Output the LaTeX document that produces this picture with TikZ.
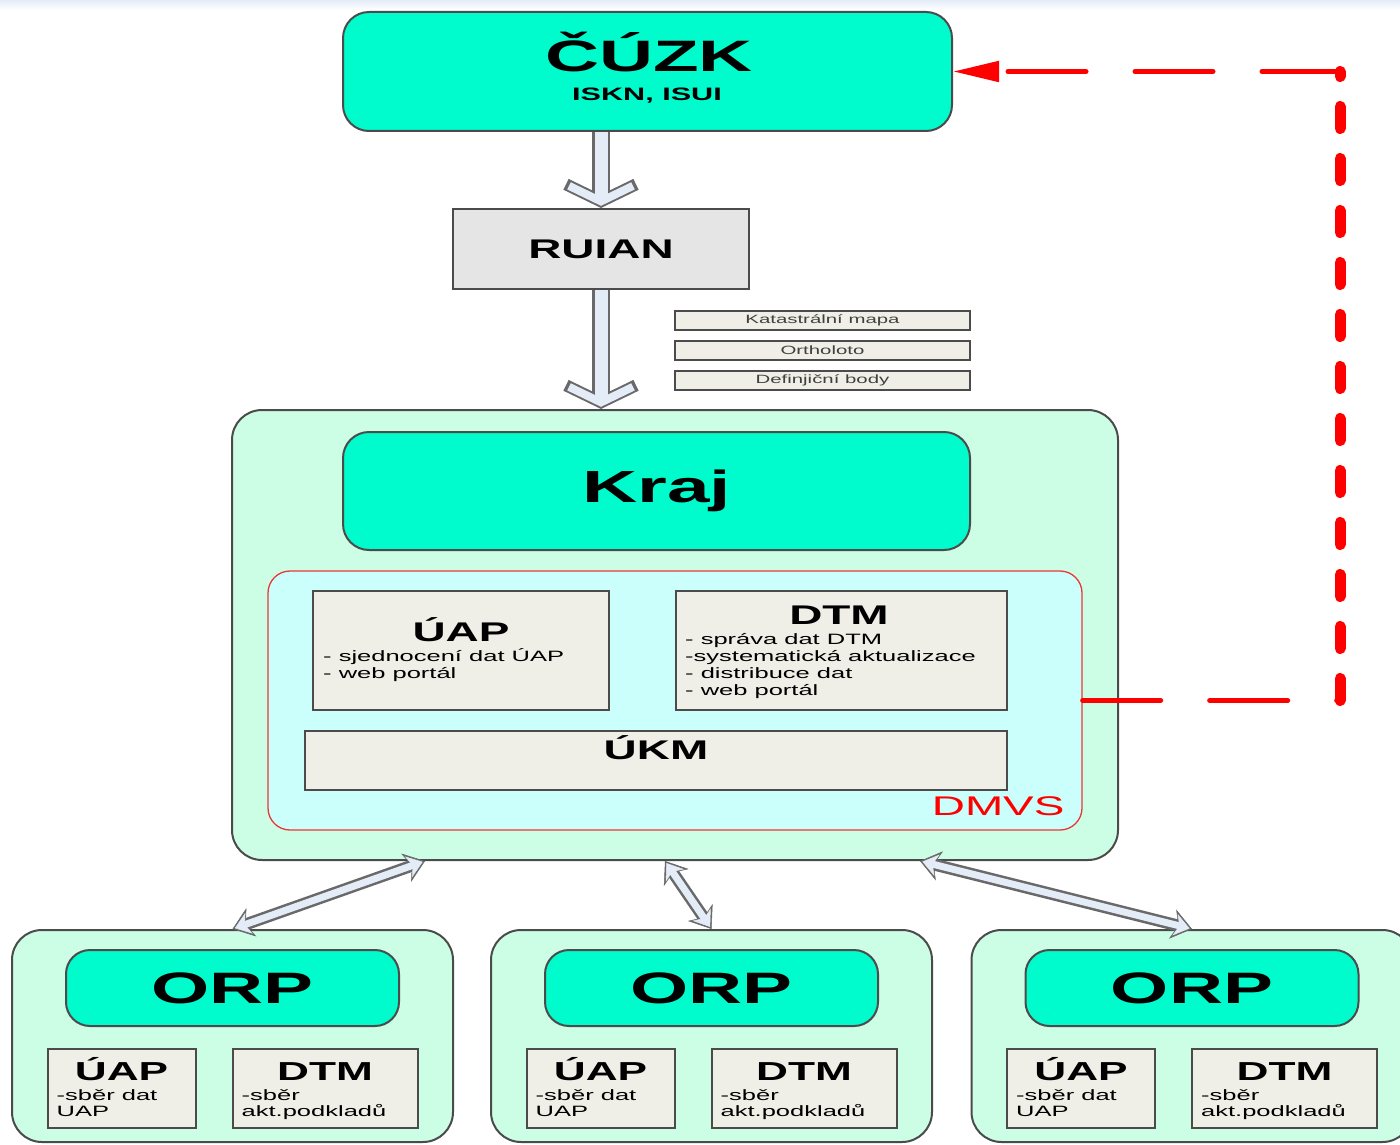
\documentclass[tikz,border=0pt]{standalone}
\usepackage{fontspec}
\setmainfont{Liberation Sans}[FakeStretch=1.7]
\usepackage{tikz}
\usetikzlibrary{arrows,arrows.meta}
\usetikzlibrary{positioning}
\definecolor{orpcyan}{RGB}{0,252,204}
\definecolor{mintgreen}{RGB}{204,254,230}
\definecolor{dmvsfill}{RGB}{202,255,252}
\definecolor{boxgray}{RGB}{239,239,231}
\definecolor{ruiangray}{RGB}{229,229,229}
\definecolor{edgegray}{RGB}{75,75,75}
\definecolor{arrowblue}{RGB}{228,236,248}
\definecolor{arrowgray}{RGB}{105,105,105}
\definecolor{dmvsred}{RGB}{235,55,55}
\tikzset{
	chevo/.tip={Straight Barb[length=17pt 0,width=70pt 0,line width=12pt 0]},
	chevi/.tip={Straight Barb[length=15.5pt 0,width=64pt 0,line width=8pt 0]},
	heado/.tip={Stealth[length=20pt 0,width=30pt 0,inset=6pt 0,line width=0.5pt 0]},
	headi/.tip={Stealth[length=15pt 0,width=22pt 0,inset=4.5pt 0,line width=0.5pt 0]}
}

\begin{document}
\begin{tikzpicture}[x=1pt,y=-1pt,
	box/.style={draw=edgegray,line width=2pt,inner sep=0pt},
	cyanbox/.style={box,fill=orpcyan,rounded corners=26pt},
	mintbox/.style={box,fill=mintgreen,rounded corners=30pt},
	graybox/.style={box,fill=boxgray},
	tagbox/.style={box,line width=1.5pt,fill=boxgray,minimum width=295pt,minimum height=19pt,text=black!75,font=\fontsize{12}{12}\selectfont},
	title/.style={anchor=base,font=\fontsize{27}{27}\selectfont\bfseries},
	list/.style={anchor=base west,align=left,inner sep=0pt,font=\fontsize{15}{17}\selectfont},
	fatout/.style={draw=arrowgray,line width=18pt},
	fatin/.style={draw=arrowblue,line width=13pt,shorten >=2.2pt},
	thinout/.style={draw=arrowgray,line width=12pt},
	thinin/.style={draw=arrowblue,line width=7pt,shorten >=2.5pt,shorten <=2.5pt},
	reddash/.style={draw=red,line cap=round}]
	\clip (0,0) rectangle (1400,1145);
	\shade[top color=arrowblue,bottom color=white] (0,0) rectangle (1400,10);

	\node[cyanbox,minimum width=609pt,minimum height=119pt] (cuzk) at (647.5,71.5) {};
	\node[anchor=base,font=\fontsize{44}{44}\selectfont\bfseries] (cuzktitle) at (649,72) {ČÚZK};
	\node[anchor=base,font=\fontsize{18}{18}\selectfont\bfseries] (cuzksub) at (647,101) {ISKN, ISUI};
	\node[box,fill=ruiangray,minimum width=296pt,minimum height=80pt,font=\fontsize{27}{27}\selectfont\bfseries] (ruian) at (601,249) {RUIAN};

	\node[tagbox] (katastr) at (822.5,320.5) {Katastrální mapa};
	\node[tagbox] (ortho) at (822.5,350.5) {Ortholoto};
	\node[tagbox] (body) at (822.5,380.5) {Definjiční body};

	\node[mintbox,minimum width=886pt,minimum height=450pt] (kraj) at (675,635) {};
	\node[cyanbox,minimum width=627pt,minimum height=118pt,font=\fontsize{45}{45}\selectfont\bfseries] (krajtitle) at (656.5,491) {Kraj};
	\node[draw=dmvsred,line width=1.3pt,fill=dmvsfill,rounded corners=22pt,minimum width=814pt,minimum height=259pt] (dmvs) at (675,700.5) {};
	\node[anchor=base east,text=red,font=\fontsize{27}{27}\selectfont] (dmvslabel) at (1068,815) {DMVS};

	\node[graybox,minimum width=296pt,minimum height=119pt] (uap) at (461,650.5) {};
	\node[title] (uaptitle) at (461,641) {ÚAP};
	\node[list] (uaplist) at (323,678) {- sjednocení dat ÚAP\\- web portál};
	\node[graybox,minimum width=331pt,minimum height=119pt] (dtm) at (841.5,650.5) {};
	\node[title] (dtmtitle) at (839,624) {DTM};
	\node[list] (dtmlist) at (685,695) {- správa dat DTM\\-systematická aktualizace\\- distribuce dat\\- web portál};
	\node[graybox,minimum width=702pt,minimum height=59pt] (ukm) at (656,760.5) {};
	\node[title] (ukmtitle) at (656,759) {ÚKM};

	\foreach \i/\cx in {1/232.5,2/711.5,3/1192}{
		\node[mintbox,minimum width=441pt,minimum height=212pt] (orp\i) at (\cx,1036) {};
		\node[cyanbox,rounded corners=24pt,minimum width=333pt,minimum height=76pt,font=\fontsize{44}{44}\selectfont\bfseries] (orptitle\i) at (\cx,988) {ORP};
		\node[graybox,minimum width=148pt,minimum height=79pt] (orpuap\i) at ({\cx-111},1088.5) {};
		\node[title,font=\fontsize{26}{26}\selectfont\bfseries] at ({\cx-111},1080) {ÚAP};
		\node[list,font=\fontsize{15}{16}\selectfont] at ({\cx-176},1116) {-sběr dat\\UAP};
		\node[graybox,minimum width=185pt,minimum height=79pt] (orpdtm\i) at ({\cx+92.5},1088.5) {};
		\node[title,font=\fontsize{26}{26}\selectfont\bfseries] at ({\cx+92.5},1080) {DTM};
		\node[list,font=\fontsize{15}{16}\selectfont] at ({\cx+9},1116) {-sběr\\akt.podkladů};
	}

	\draw[fatout,-chevo] (cuzk.south -| ruian) -- (ruian.north);
	\draw[fatin,-chevi] (cuzk.south -| ruian) -- (ruian.north);
	\draw[fatout,-chevo] (ruian.south) -- (ruian.south |- kraj.north);
	\draw[fatin,-chevi] (ruian.south) -- (ruian.south |- kraj.north);

	\foreach \i/\dx in {1/-250,2/-10,3/245}{
		\draw[thinout,heado-heado] (orp\i.north) -- ([xshift=\dx pt]kraj.south);
		\draw[thinin,headi-headi] (orp\i.north) -- ([xshift=\dx pt]kraj.south);
	}

	\coordinate (back) at (1340,0);
	\draw[reddash,line width=5pt,dash pattern=on 78pt off 49pt] (dmvs.east) -- (dmvs.east -| back);
	\draw[reddash,line width=11pt,dash pattern=on 22pt off 30pt] (dmvs.east -| back) -- (cuzk.east -| back);
	\draw[reddash,line width=5pt,dash pattern=on 78pt off 49pt,-{Triangle[length=46pt 0,width=20pt 0]}] (cuzk.east -| back) -- (cuzk.east);
\end{tikzpicture}
\end{document}
